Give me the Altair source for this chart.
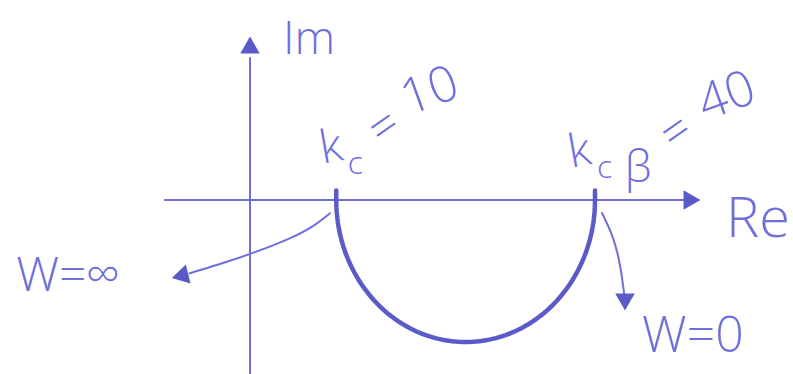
import altair as alt
import numpy as np
import pandas as pd

# Nyquist sketch of a lead/lag compensator: semicircle from Kc to Kc*beta
KC = 10.0
KC_BETA = 40.0

# plot window in Re / Im units
X_DOMAIN = [-28.99, 62.96]
Y_DOMAIN = [-18.38, 21.13]

# axes (Re, Im)
re_axis_x = [-9.86, 50.5]
re_axis_y = [0.0, 0.0]
im_axis_x = [0.0, 0.0]
im_axis_y = [-18.38, 15.0]

# frequency sweep direction arrows
w_inf_x = [9.28, 7.3, 4.6, 1.2, -2.6, -7.0]
w_inf_y = [-1.40, -2.75, -4.05, -5.30, -6.50, -7.75]
w_zero_x = [40.81, 41.97, 42.78, 43.25, 43.48]
w_zero_y = [-1.37, -3.70, -6.34, -8.98, -10.56]

# arrowheads: x, y, shape, tilt
head_x = [0.0, 51.25, -8.12, 43.48]
head_y = [16.37, 0.0, -8.03, -10.77]
head_shape = ["triangle-up", "triangle-right", "triangle-left", "triangle-down"]
head_tilt = [0, 0, 346, 0]

# text pieces
label_text = ["Im", "Re", "W=∞", "W=0",
              "k", "c", "=", "10",
              "k", "c", "β", "=", "40"]
label_x = [6.84, 58.9, -21.10, 51.36,
           9.40, 12.20, 15.65, 20.87,
           38.20, 41.10, 44.99, 49.51, 55.30]
label_y = [16.90, -2.11, -8.13, -14.47,
           5.49, 3.80, 7.61, 11.41,
           5.07, 3.40, 3.27, 7.08, 10.88]
label_size = [46, 56, 48, 50,
              46, 32, 48, 50,
              46, 32, 44, 48, 50]
label_tilt = [0, 0, 0, 0,
              350, 0, 325, 340,
              350, 0, 0, 325, 340]

INK = "#6f6fdc"
INK_DARK = "#5a5ac8"

# semicircle below the real axis, with the small pen ticks above it at both ends
theta = np.linspace(np.pi, 2 * np.pi, 121)
center = (KC + KC_BETA) / 2
radius = (KC_BETA - KC) / 2
arc_x = [KC] + list(center + radius * np.cos(theta)) + [KC_BETA]
arc_y = [1.0] + list(radius * np.sin(theta)) + [1.0]
arc = pd.DataFrame({"x": arc_x, "y": arc_y, "o": range(len(arc_x))})

def path(name, xs, ys):
    return pd.DataFrame({"seg": name, "x": xs, "y": ys, "o": range(len(xs))})

axes_df = pd.concat([
    path("re", re_axis_x, re_axis_y),
    path("im", im_axis_x, im_axis_y),
])
sweep_df = pd.concat([
    path("winf", w_inf_x, w_inf_y),
    path("wzero", w_zero_x, w_zero_y),
])

heads = pd.DataFrame({"x": head_x, "y": head_y, "shape": head_shape, "tilt": head_tilt})
labels = pd.DataFrame({"t": label_text, "x": label_x, "y": label_y,
                       "s": label_size, "a": label_tilt})

xs = alt.Scale(domain=X_DOMAIN, nice=False, zero=False)
ys = alt.Scale(domain=Y_DOMAIN, nice=False, zero=False)
X = lambda: alt.X("x:Q", scale=xs, axis=None)
Y = lambda: alt.Y("y:Q", scale=ys, axis=None)

axes = alt.Chart(axes_df).mark_line(color=INK, strokeWidth=2, strokeCap="round").encode(
    x=X(), y=Y(), detail="seg:N", order="o:Q")

sweeps = alt.Chart(sweep_df).mark_line(color=INK, strokeWidth=2, strokeCap="round",
                                       interpolate="natural").encode(
    x=X(), y=Y(), detail="seg:N", order="o:Q")

curve = alt.Chart(arc).mark_line(color=INK_DARK, strokeWidth=4.5, strokeCap="round").encode(
    x=X(), y=Y(), order="o:Q")

arrowheads = alt.Chart(heads).mark_point(filled=True, color=INK_DARK, size=380, opacity=1).encode(
    x=X(), y=Y(),
    shape=alt.Shape("shape:N", scale=None),
    angle=alt.Angle("tilt:Q", scale=None))

texts = alt.Chart(labels).mark_text(color=INK, font="Open Sans", fontWeight=300,
                                    align="center", baseline="middle").encode(
    x=X(), y=Y(), text="t:N",
    size=alt.Size("s:Q", scale=None),
    angle=alt.Angle("a:Q", scale=None))

chart = alt.layer(axes, sweeps, curve, arrowheads, texts).properties(
    width=793, height=374, padding=0, autosize=alt.AutoSizeParams(type="none"),
    background="white"
).configure_view(stroke=None)

chart.save("out.html", embed_options={"renderer": "svg", "actions": False})
